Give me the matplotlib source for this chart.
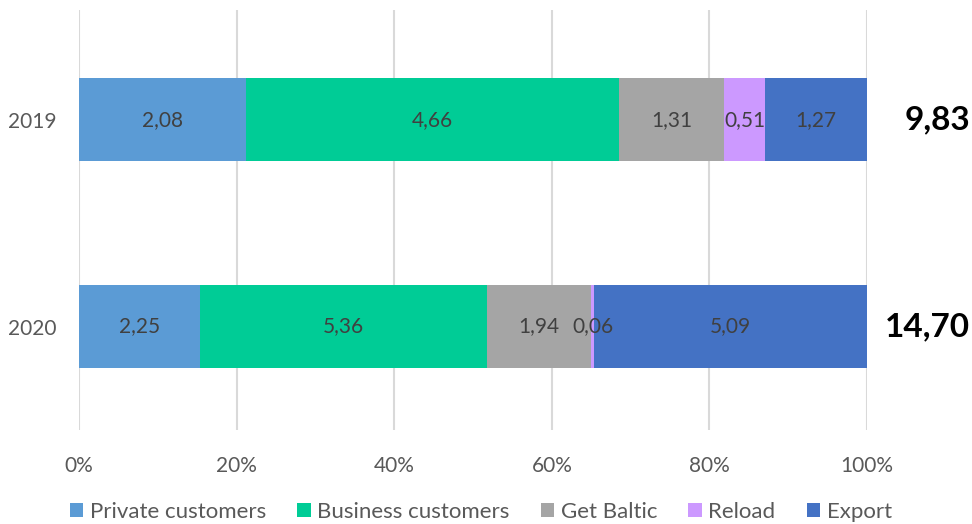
import numpy as np
import matplotlib.pyplot as plt
from matplotlib.ticker import FuncFormatter

plt.rcParams['font.family'] = ['Lato', 'DejaVu Sans']

# data
years = ['2020', '2019']
segments = ['Private customers', 'Business customers', 'Get Baltic', 'Reload', 'Export']
colors = ['#5B9BD5', '#00CC96', '#A5A5A5', '#CC99FF', '#4472C4']
values_2019 = [2.08, 4.66, 1.31, 0.51, 1.27]
values_2020 = [2.25, 5.36, 1.94, 0.06, 5.09]
totals = ['14,70', '9,83']

vals = np.array([values_2020, values_2019])
shares = vals / vals.sum(axis=1, keepdims=True)

fig = plt.figure(figsize=(9.72, 5.24), dpi=100)
ax = fig.add_axes([0.0813, 0.1794, 0.8107, 0.8016])

ypos = np.arange(len(years))
left = np.zeros(len(years))
for j, name in enumerate(segments):
    ax.barh(ypos, shares[:, j], left=left, height=0.4, color=colors[j], label=name, zorder=2)
    for i in range(len(years)):
        lbl = f'{vals[i, j]:.2f}'.replace('.', ',')
        ax.text(left[i] + shares[i, j] / 2, ypos[i], lbl, ha='center', va='center',
                fontsize=15, color='#404040', zorder=3)
    left += shares[:, j]

for i, t in enumerate(totals):
    ax.text(1.131, ypos[i], t, transform=ax.get_yaxis_transform(), ha='right', va='center',
            fontsize=24, fontweight='bold', color='black')

ax.set_xlim(0, 1)
ax.set_ylim(-0.5, 1.53)
ax.set_xticks(np.linspace(0, 1, 6))
ax.xaxis.set_major_formatter(FuncFormatter(lambda v, p: f'{v*100:.0f}%'))
ax.set_yticks(ypos)
ax.set_yticklabels(years)
ax.tick_params(length=0, labelsize=15, labelcolor='#595959')
ax.tick_params(axis='x', pad=19)
ax.tick_params(axis='y', pad=16)
ax.grid(axis='x', color='#D9D9D9', linewidth=1.5, zorder=0)
for s in ax.spines.values():
    s.set_visible(False)

ax.legend(loc='center', bbox_to_anchor=(0.51, -0.195), ncol=5, frameon=False,
          fontsize=16, labelcolor='#595959', handlelength=0.6, handleheight=0.6,
          handletextpad=0.3, columnspacing=1.4, borderpad=0.2)

fig.savefig('out.png', dpi=100)
